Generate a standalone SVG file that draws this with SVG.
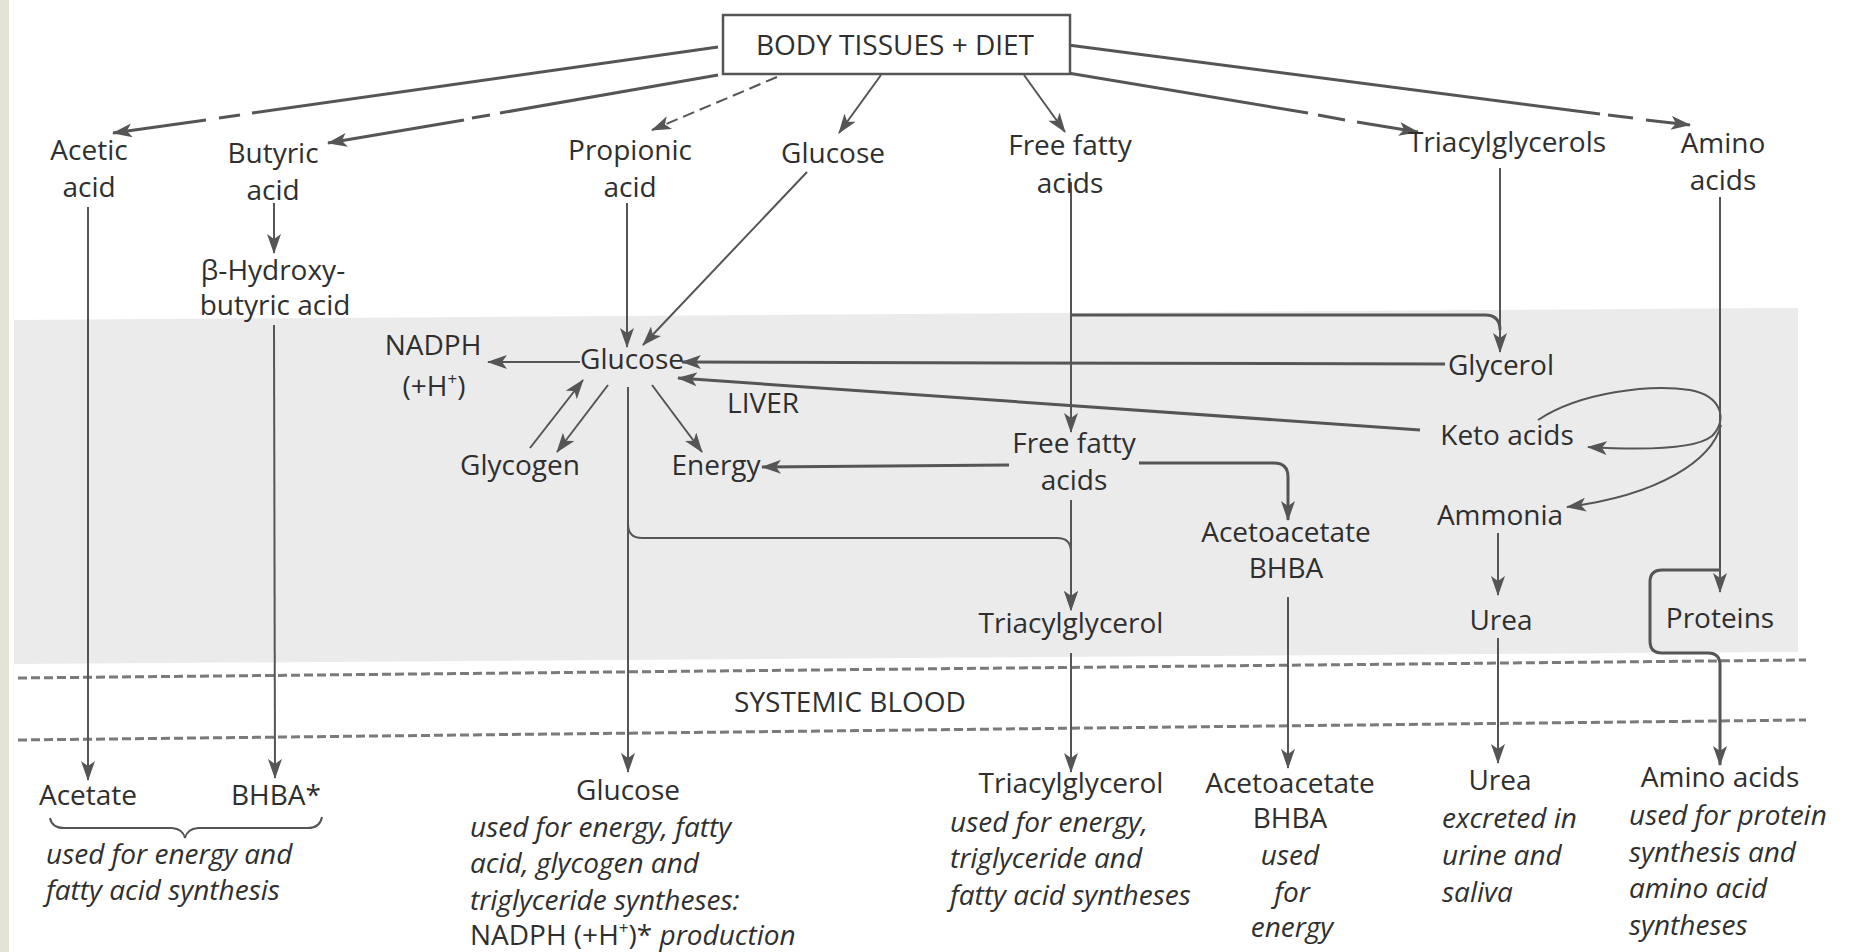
<svg xmlns="http://www.w3.org/2000/svg" width="1854" height="952" viewBox="0 0 1854 952">
<style>
.t{font-family:"Open Sans","Noto Sans","Liberation Sans",sans-serif;font-size:28px;fill:#2f2f2f;text-anchor:middle}
.l{text-anchor:start}
.i{font-style:italic}
.c{fill:none;stroke:#555;stroke-width:2}
.tk{stroke-width:3}
.a{marker-end:url(#ar)}
.dl{fill:none;stroke:#7a7a7a;stroke-width:3;stroke-dasharray:9 4}
</style>
<defs>
<marker id="ar" markerUnits="userSpaceOnUse" markerWidth="20" markerHeight="14" refX="19" refY="7" orient="auto">
<path d="M0,0 L20,7 L0,14 L5,7 z" fill="#555"/>
</marker>
</defs>
<rect width="1854" height="952" fill="#fff"/>
<rect x="0" y="0" width="9" height="952" fill="#e4e4d6"/>
<polygon id="liver-zone" points="14,320 1798,308 1798,652 14,664" fill="#ebebeb"/>
<g id="blood-lines">
<line class="dl" x1="18" y1="678" x2="1806" y2="660"/>
<line class="dl" x1="18" y1="740" x2="1806" y2="720"/>
</g>

<g id="connectors">
<!-- from body tissues + diet -->
<path class="c tk" d="M718,47 L252,113"/>
<path class="c tk" d="M240,115 L219,118"/>
<path class="c tk a" d="M206,120 L113,133"/>
<path class="c tk" d="M718,75 L500,113"/>
<path class="c tk" d="M490,115 L472,118"/>
<path class="c tk a" d="M464,120 L328,143"/>
<path class="c a" d="M777,77 L652,130" stroke-dasharray="12 6"/>
<path class="c a" d="M881,75 L839,133"/>
<path class="c a" d="M1024,75 L1065,132"/>
<path class="c tk" d="M1068,73 L1308,113"/>
<path class="c tk" d="M1318,115 L1345,120"/>
<path class="c tk a" d="M1357,122 L1418,132"/>
<path class="c tk" d="M1068,45 L1600,114"/>
<path class="c tk" d="M1608,115 L1633,118"/>
<path class="c tk a" d="M1646,120 L1690,125"/>
<!-- acetic / butyric -->
<path class="c a" d="M88,207 L88,780"/>
<path class="c a" d="M274,203 L274,253"/>
<path class="c a" d="M274,325 L275,778"/>
<!-- into liver glucose -->
<path class="c a" d="M627,203 L627,347"/>
<path class="c a" d="M807,172 L643,345"/>
<path class="c a" d="M580,362 L488,362"/>
<path class="c a" d="M530,448 L583,380"/>
<path class="c a" d="M608,385 L557,452"/>
<path class="c a" d="M652,385 L702,452"/>
<path class="c a" d="M628,387 L628,772"/>
<path class="c a" d="M628,524 Q628,538 642,538 L1057,538 Q1071,538 1071,552 L1071,610"/>
<!-- fatty acids / triacylglycerols -->
<path class="c a" d="M1071,182 L1071,432"/>
<path class="c a" d="M1500,168 L1500,352"/>
<path class="c tk" d="M1071,315 L1485,315 Q1500,315 1500,330"/>
<path class="c tk a" d="M1445,364 L682,362"/>
<path class="c tk a" d="M1420,430 L678,378"/>
<path class="c tk a" d="M1009,465 L762,467"/>
<path class="c tk a" d="M1139,463 L1274,463 Q1288,463 1288,477 L1288,520"/>
<path class="c a" d="M1071,500 L1071,610"/>
<!-- amino acids -->
<path class="c a" d="M1720,197 L1720,592"/>
<path class="c a" d="M1538,420 C1580,392 1650,384 1690,390 C1722,396 1728,420 1712,436 C1695,450 1640,450 1588,447"/>
<path class="c a" d="M1721,425 C1712,460 1660,495 1567,507"/>
<path class="c a" d="M1498,533 L1498,595"/>
<path class="c tk a" d="M1720,570 L1662,570 Q1650,570 1650,582 L1650,641 Q1650,653 1662,653 L1708,653 Q1720,653 1720,665 L1720,765"/>
<!-- liver to blood -->
<path class="c a" d="M1071,653 L1071,772"/>
<path class="c a" d="M1288,597 L1288,768"/>
<path class="c a" d="M1498,638 L1498,763"/>
<path class="c" d="M50,818 Q52,828 64,828 L172,828 Q183,829 185,838 Q187,829 198,828 L308,828 Q320,828 322,817" stroke-width="2.5"/>
</g>

<g id="body-tissues-diet">
<rect x="723" y="15" width="347" height="59" fill="#fff" stroke="#555" stroke-width="2.5"/>
<text class="t" x="895" y="55">BODY TISSUES + DIET</text>
</g>
<g id="acetic-acid"><text class="t" x="89" y="160">Acetic</text><text class="t" x="89" y="197">acid</text></g>
<g id="butyric-acid"><text class="t" x="273" y="163">Butyric</text><text class="t" x="273" y="200">acid</text></g>
<g id="propionic-acid"><text class="t" x="630" y="160">Propionic</text><text class="t" x="630" y="197">acid</text></g>
<g id="glucose-diet"><text class="t" x="833" y="163">Glucose</text></g>
<g id="ffa-diet"><text class="t" x="1070" y="155">Free fatty</text><text class="t" x="1070" y="193">acids</text></g>
<g id="triacylglycerols"><text class="t" x="1507" y="152">Triacylglycerols</text></g>
<g id="amino-acids"><text class="t" x="1723" y="153">Amino</text><text class="t" x="1723" y="190">acids</text></g>
<g id="bhb-acid"><text class="t" x="273" y="280">β-Hydroxy-</text><text class="t" x="275" y="315">butyric acid</text></g>

<g id="nadph"><text class="t" x="433" y="355">NADPH</text><text class="t" x="434" y="396">(+H<tspan font-size="17" dy="-11">+</tspan><tspan dy="11">)</tspan></text></g>
<g id="glucose-liver"><text class="t" x="632" y="369">Glucose</text></g>
<g id="liver-label"><text class="t" x="763" y="413">LIVER</text></g>
<g id="glycogen"><text class="t" x="520" y="475">Glycogen</text></g>
<g id="energy"><text class="t" x="716" y="475">Energy</text></g>
<g id="glycerol"><text class="t" x="1501" y="375">Glycerol</text></g>
<g id="keto-acids"><text class="t" x="1507" y="445">Keto acids</text></g>
<g id="ffa-liver"><text class="t" x="1074" y="453">Free fatty</text><text class="t" x="1074" y="490">acids</text></g>
<g id="ammonia"><text class="t" x="1500" y="525">Ammonia</text></g>
<g id="acac-liver"><text class="t" x="1286" y="542">Acetoacetate</text><text class="t" x="1286" y="578">BHBA</text></g>
<g id="tag-liver"><text class="t" x="1071" y="633">Triacylglycerol</text></g>
<g id="urea-liver"><text class="t" x="1501" y="630">Urea</text></g>
<g id="proteins"><text class="t" x="1720" y="628">Proteins</text></g>

<g id="systemic-blood"><text class="t" x="850" y="712">SYSTEMIC BLOOD</text></g>

<g id="acetate-bhba">
<text class="t" x="88" y="805">Acetate</text>
<text class="t" x="276" y="805">BHBA*</text>
<text class="t l i" x="46" y="864">used for energy and</text>
<text class="t l i" x="46" y="900">fatty acid synthesis</text>
</g>
<g id="glucose-blood">
<text class="t" x="628" y="800">Glucose</text>
<text class="t l i" x="470" y="837">used for energy, fatty</text>
<text class="t l i" x="470" y="873">acid, glycogen and</text>
<text class="t l i" x="470" y="910">triglyceride syntheses:</text>
<text class="t l" x="470" y="945">NADPH (+H<tspan font-size="17" dy="-11">+</tspan><tspan dy="11">)* </tspan><tspan font-style="italic">production</tspan></text>
</g>
<g id="tag-blood">
<text class="t" x="1071" y="793">Triacylglycerol</text>
<text class="t l i" x="950" y="832">used for energy,</text>
<text class="t l i" x="950" y="868">triglyceride and</text>
<text class="t l i" x="950" y="905">fatty acid syntheses</text>
</g>
<g id="acac-blood">
<text class="t" x="1290" y="793">Acetoacetate</text>
<text class="t" x="1290" y="828">BHBA</text>
<text class="t i" x="1290" y="865">used</text>
<text class="t i" x="1292" y="902">for</text>
<text class="t i" x="1292" y="937">energy</text>
</g>
<g id="urea-blood">
<text class="t" x="1500" y="790">Urea</text>
<text class="t l i" x="1442" y="828">excreted in</text>
<text class="t l i" x="1442" y="865">urine and</text>
<text class="t l i" x="1442" y="902">saliva</text>
</g>
<g id="amino-blood">
<text class="t" x="1720" y="787">Amino acids</text>
<text class="t l i" x="1629" y="825">used for protein</text>
<text class="t l i" x="1629" y="862">synthesis and</text>
<text class="t l i" x="1629" y="898">amino acid</text>
<text class="t l i" x="1629" y="935">syntheses</text>
</g>
</svg>
